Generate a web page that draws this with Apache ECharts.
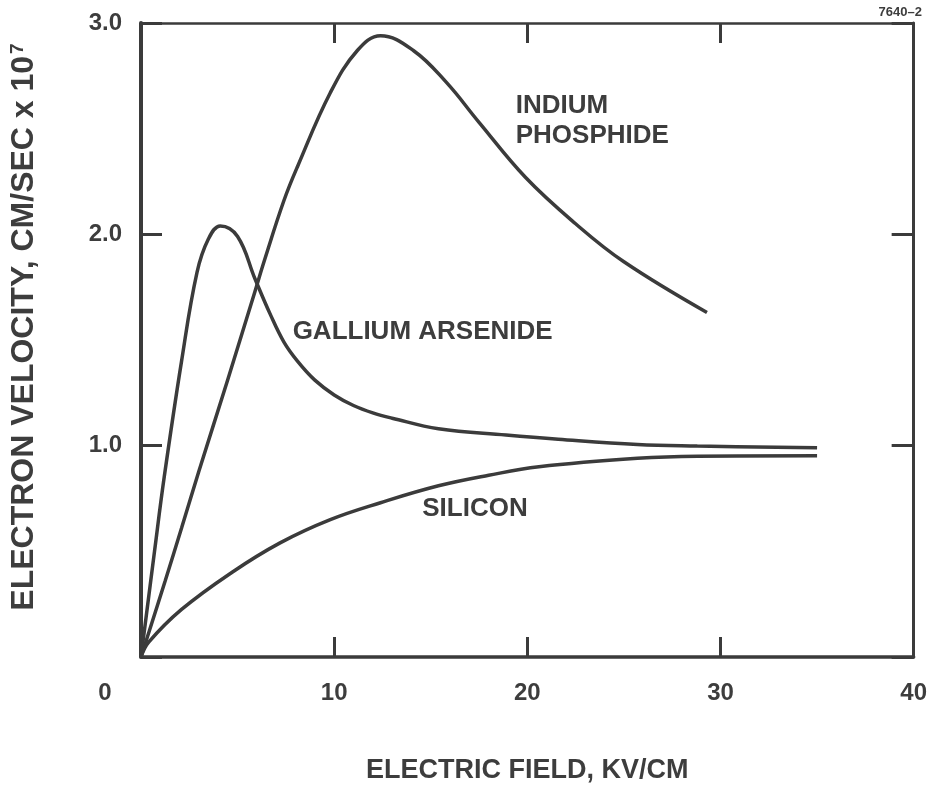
<!DOCTYPE html>
<html>
<head>
<meta charset="utf-8">
<script src="https://cdn.jsdelivr.net/npm/echarts@6/dist/echarts.min.js"></script>
<style>
  html, body { margin: 0; padding: 0; background: #ffffff; }
  #chart { width: 930px; height: 789px; }
</style>
</head>
<body>
<div id="chart"></div>
<script>
// Electron drift velocity (x 1e7 cm/s) against electric field (kV/cm)

const inpField    = [0, 1.25, 2.1, 3.0, 4.45, 5.9, 6.4, 7.4, 8.1, 9.8, 11.2, 12.4, 14.1, 15.8, 17.5, 19.9, 22.5, 25.0, 29.3];
const inpVelocity = [0, 0.36, 0.61, 0.88, 1.30, 1.73, 1.88, 2.16, 2.32, 2.67, 2.87, 2.94, 2.87, 2.72, 2.53, 2.27, 2.05, 1.87, 1.63];

const gaasField    = [0, 0.7, 1.2, 2.1, 2.9, 3.5, 4.1, 5.0, 5.9, 6.7, 7.4, 8.1, 9.0, 10.0, 11.0, 12.0, 13.0, 15.4, 18.9, 21.6, 25.7, 28.8, 35.0];
const gaasVelocity = [0, 0.50, 0.85, 1.40, 1.82, 1.98, 2.04, 1.99, 1.79, 1.62, 1.49, 1.40, 1.31, 1.24, 1.19, 1.155, 1.13, 1.08, 1.05, 1.03, 1.005, 0.998, 0.99];

const siField    = [0, 0.4, 2.1, 4.7, 7.2, 9.8, 12.4, 15.4, 18.0, 20.6, 25.7, 28.8, 35.0];
const siVelocity = [0, 0.07, 0.225, 0.40, 0.54, 0.65, 0.73, 0.81, 0.86, 0.90, 0.94, 0.95, 0.952];

const fieldTicks = [0, 10, 20, 30, 40];
const velocityTicks = [1.0, 2.0, 3.0];

const curveNames = ['INDIUM\nPHOSPHIDE', 'GALLIUM ARSENIDE', 'SILICON'];
// anchor (left edge, text middle) of each curve caption in data units
const captionAnchors = [[19.4, 2.61], [7.85, 1.54], [14.56, 0.70]];

const zip = (xs, ys) => xs.map((x, i) => [x, ys[i]]);

const ink = '#3b3b3b';
const textInk = '#3d3d3d';
const font = '"Liberation Sans", Arial, Helvetica, sans-serif';

const chart = echarts.init(document.getElementById('chart'), null, { renderer: 'canvas' });

const lineStyle = { color: ink, width: 3.5 };
const curve = (name, data) => ({
  name: name,
  type: 'line',
  data: data,
  showSymbol: false,
  smooth: 0.4,
  lineStyle: lineStyle,
  silent: true,
  z: 3
});

const tickStyle = { color: ink, width: 3 };

chart.setOption({
  backgroundColor: '#ffffff',
  animation: false,
  grid: { left: 139, right: 11, top: 23, bottom: 126, containLabel: false },
  xAxis: [
    {
      type: 'value',
      position: 'bottom',
      min: fieldTicks[0],
      max: fieldTicks[fieldTicks.length - 1],
      interval: fieldTicks[1] - fieldTicks[0],
      axisLine: { show: true, onZero: false, lineStyle: { color: ink, width: 3.5 } },
      axisTick: { show: true, inside: true, length: 20, lineStyle: tickStyle },
      splitLine: { show: false },
      axisLabel: {
        margin: 24,
        fontSize: 24,
        fontWeight: 'bold',
        fontFamily: font,
        color: textInk,
        formatter: v => v === 0 ? '{z|0}' : String(v),
        rich: {
          z: { fontSize: 24, fontWeight: 'bold', fontFamily: font, color: textInk, padding: [0, 72, 0, 0] }
        }
      },
      name: 'ELECTRIC FIELD, KV/CM',
      nameLocation: 'middle',
      nameGap: 100,
      nameTextStyle: { fontSize: 27, fontWeight: 'bold', fontFamily: font, color: textInk }
    },
    {
      type: 'value',
      position: 'top',
      min: fieldTicks[0],
      max: fieldTicks[fieldTicks.length - 1],
      interval: fieldTicks[1] - fieldTicks[0],
      axisLine: { show: true, onZero: false, lineStyle: { color: ink, width: 2.5 } },
      axisTick: { show: true, inside: true, length: 20, lineStyle: tickStyle },
      axisLabel: { show: false },
      splitLine: { show: false }
    }
  ],
  yAxis: [
    {
      type: 'value',
      position: 'left',
      min: 0,
      max: velocityTicks[velocityTicks.length - 1],
      interval: velocityTicks[1] - velocityTicks[0],
      axisLine: { show: true, onZero: false, lineStyle: { color: ink, width: 4 } },
      axisTick: { show: true, inside: true, length: 21, lineStyle: tickStyle },
      splitLine: { show: false },
      axisLabel: {
        margin: 19,
        fontSize: 24,
        fontWeight: 'bold',
        fontFamily: font,
        color: textInk,
        formatter: v => velocityTicks.indexOf(v) >= 0 ? v.toFixed(1) : ''
      },
      name: 'ELECTRON VELOCITY, CM/SEC x 10{sup|7}',
      nameLocation: 'middle',
      nameRotate: 90,
      nameGap: 100,
      nameTextStyle: {
        fontSize: 32,
        fontWeight: 'bold',
        fontFamily: font,
        color: textInk,
        padding: [0, 0, 0, 26],
        rich: {
          sup: { fontSize: 19, fontWeight: 'bold', fontFamily: font, color: textInk, verticalAlign: 'top', padding: [0, 0, 14, 2] }
        }
      }
    },
    {
      type: 'value',
      position: 'right',
      min: 0,
      max: velocityTicks[velocityTicks.length - 1],
      interval: velocityTicks[1] - velocityTicks[0],
      axisLine: { show: true, onZero: false, lineStyle: { color: ink, width: 3 } },
      axisTick: { show: true, inside: true, length: 22, lineStyle: tickStyle },
      axisLabel: { show: false },
      splitLine: { show: false }
    }
  ],
  series: [
    curve('Indium phosphide', zip(inpField, inpVelocity)),
    curve('Gallium arsenide', zip(gaasField, gaasVelocity)),
    curve('Silicon', zip(siField, siVelocity))
  ]
});

// curve captions placed through the grid's own coordinate conversion
const captions = curveNames.map((text, i) => {
  const p = chart.convertToPixel({ gridIndex: 0 }, captionAnchors[i]);
  return {
    type: 'text',
    x: p[0],
    y: p[1],
    silent: true,
    style: {
      text: text,
      fill: textInk,
      font: 'bold 26px ' + font,
      lineHeight: 30,
      textAlign: 'left',
      textVerticalAlign: text.indexOf('\n') >= 0 ? 'top' : 'middle'
    }
  };
});
// two-line caption: anchor refers to first line middle
captions[0].y -= 15;

chart.setOption({
  graphic: captions.concat([
    {
      type: 'text',
      right: 8,
      top: 6,
      silent: true,
      style: { text: '7640–2', fill: textInk, font: 'bold 13px ' + font }
    }
  ])
});
</script>
</body>
</html>
